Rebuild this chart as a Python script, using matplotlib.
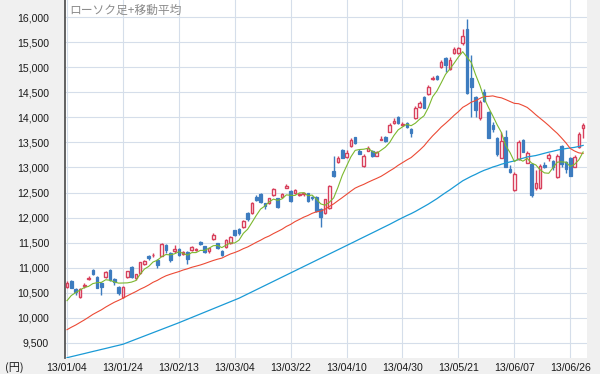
import numpy as np
import pandas as pd
import matplotlib
matplotlib.use("Agg")
import matplotlib.pyplot as plt

plt.rcParams["font.family"] = ["Liberation Sans", "Noto Sans CJK JP", "DejaVu Sans"]

holidays = ["2013-01-14", "2013-02-11", "2013-03-20", "2013-04-29", "2013-05-03", "2013-05-06"]
dates = pd.bdate_range("2013-01-04", "2013-07-01")
dates = dates[~dates.isin(pd.to_datetime(holidays))]

tick_labels = ["13/01/04", "13/01/24", "13/02/13", "13/03/04", "13/03/22",
               "13/04/10", "13/04/30", "13/05/21", "13/06/07", "13/06/26"]

# last closes of 2012 (needed for the 5 and 25 day averages)
prev_close = [9388.94, 9423.30, 9308.35, 9400.88, 9446.01, 9458.18, 9432.46, 9468.84,
              9545.16, 9527.39, 9533.75, 9525.32, 9581.46, 9742.73, 9737.56, 9828.88,
              9923.01, 10160.40, 10039.33, 9940.06, 10080.12, 10230.36, 10322.98, 10395.18]

open_ = [10610, 10743, 10580, 10420, 10640, 10780, 10950, 10810, 10690, 10810, 10950, 10770, 10610, 10420, 10820, 11010, 10790, 10900, 11070,
         11240, 11250, 11150, 11240, 11450, 11290, 11330, 11370, 11280, 11320, 11350, 11350, 11520, 11430, 11330, 11580, 11490, 11340, 11420,
         11500, 11750, 11780, 11810, 12090, 12090, 12420, 12480, 12290, 12290, 12450, 12390, 12420, 12600, 12540, 12500, 12450, 12480, 12490, 12420,
         12420, 12180, 12100, 12197, 12920, 13100, 13340, 13200, 13430, 13600, 13330, 13030, 13330, 13320, 13230, 13545, 13600, 13713, 13886, 14010, 13850,
         13886, 13760, 13980, 14212, 14400, 14464, 14770, 14820, 15000, 15190, 14960, 15288, 15290, 15476, 15760, 14780, 14400, 13990, 14510, 14110, 13846,
         13580, 13190, 13607, 12970, 12550, 13160, 13547, 13095, 13069, 12584, 12584, 13049, 13183, 13129, 12804, 13428, 13115, 13188, 13015, 13402, 13780]

high = [10740, 10752, 10600, 10600, 10700, 10830, 10980, 10830, 10720, 10930, 10970, 10790, 10630, 10640, 10940, 11030, 10880, 11120, 11150,
        11260, 11300, 11180, 11500, 11480, 11310, 11450, 11400, 11330, 11340, 11430, 11390, 11530, 11440, 11400, 11700, 11500, 11360, 11570,
        11630, 11760, 11800, 11960, 12110, 12320, 12450, 12500, 12300, 12400, 12600, 12400, 12500, 12670, 12560, 12570, 12490, 12510, 12500, 12440,
        12440, 12200, 12380, 12650, 13225, 13230, 13360, 13340, 13590, 13610, 13360, 13270, 13420, 13340, 13330, 13630, 13620, 13893, 13986, 14030, 13900,
        13900, 13780, 14220, 14332, 14420, 14650, 14830, 14840, 15150, 15200, 15210, 15408, 15400, 15755, 15960, 15240, 14420, 14345, 14560, 14130, 13900,
        13600, 13711, 13747, 13050, 12900, 13540, 13560, 13334, 13080, 12950, 13070, 13100, 13280, 13140, 13262, 13440, 13130, 13200, 13250, 13713, 13893]

low = [10600, 10589, 10460, 10400, 10600, 10760, 10860, 10590, 10457, 10790, 10740, 10650, 10460, 10400, 10800, 10800, 10760, 10880, 11050,
       11150, 11220, 11000, 11230, 11300, 11120, 11300, 11230, 11260, 11070, 11330, 11330, 11450, 11290, 11300, 11560, 11370, 11230, 11400,
       11480, 11630, 11660, 11800, 11940, 12070, 12330, 12300, 12180, 12270, 12430, 12200, 12400, 12590, 12320, 12480, 12430, 12440, 12320, 12360,
       12120, 11805, 12080, 12180, 12800, 13080, 13180, 13180, 13410, 13460, 13260, 13000, 13320, 13200, 13220, 13540, 13500, 13700, 13870, 13860, 13830,
       13780, 13600, 13960, 14190, 14180, 14440, 14750, 14740, 14980, 14910, 14940, 15270, 15270, 15450, 14470, 14000, 14000, 13950, 14300, 13580, 13700,
       13230, 13180, 13000, 12880, 12540, 13150, 13300, 13080, 12415, 12560, 12570, 12980, 13130, 12950, 12780, 13000, 12880, 12830, 13000, 13390, 13590]

close = [10688.11, 10599.01, 10508.06, 10578.57, 10652.64, 10801.57, 10879.08, 10600.44, 10609.64, 10913.30, 10747.74, 10709.93, 10486.99, 10620.92, 10926.65, 10824.31, 10866.72, 11113.95, 11138.66,
         11191.34, 11260.35, 11046.92, 11463.75, 11357.07, 11153.16, 11369.12, 11251.41, 11307.28, 11173.83, 11407.87, 11372.34, 11468.28, 11309.13, 11385.94, 11662.52, 11398.81, 11253.97, 11559.36,
         11606.38, 11652.29, 11683.45, 11932.27, 11968.08, 12283.62, 12349.05, 12314.81, 12239.66, 12381.19, 12560.95, 12220.63, 12468.23, 12635.69, 12338.53, 12546.46, 12471.62, 12493.79, 12335.96, 12397.91,
         12135.02, 12003.43, 12362.20, 12634.54, 12833.64, 13192.59, 13192.35, 13288.13, 13549.16, 13485.14, 13275.66, 13221.44, 13382.89, 13220.07, 13316.48, 13568.37, 13529.65, 13843.46, 13926.08, 13884.13, 13860.86,
         13799.35, 13694.04, 14180.24, 14285.69, 14191.48, 14607.54, 14782.21, 14758.13, 15096.03, 15037.24, 15138.12, 15360.81, 15381.02, 15627.26, 14483.98, 14612.45, 14142.65, 14311.98, 14326.46, 13589.03, 13774.54,
         13261.82, 13533.76, 13014.87, 12904.02, 12877.03, 13514.20, 13317.62, 13289.32, 12445.38, 12686.52, 13033.12, 13007.28, 13245.22, 13014.58, 13230.13, 13062.78, 12969.34, 12834.01, 13213.55, 13677.32, 13852.50]

ma75 = [9206, 9227, 9247, 9268, 9288, 9309, 9330, 9350, 9371, 9391, 9412, 9433, 9453, 9474,
        9507, 9540, 9573, 9606, 9639, 9672, 9705, 9738, 9771, 9804, 9837, 9870, 9903,
        9938, 9973, 10008, 10043, 10078, 10113, 10148, 10183, 10218, 10253, 10288, 10323, 10358, 10393,
        10435, 10477, 10519, 10561, 10603, 10645, 10687, 10729, 10771, 10813, 10855, 10897, 10939, 10981,
        11023, 11065, 11107, 11149, 11191, 11233, 11275, 11317, 11359,
        11401, 11443, 11485, 11527, 11570, 11612, 11654, 11696, 11738, 11781, 11823,
        11865, 11910, 11955, 11998, 12040, 12079, 12123, 12172, 12220, 12269, 12323, 12377, 12438, 12497,
        12553, 12614, 12674, 12734, 12779, 12824, 12863, 12906, 12944, 12974, 13009, 13034, 13065, 13088,
        13111, 13130, 13159, 13184, 13210, 13224, 13238, 13260, 13283, 13305, 13324, 13345, 13364, 13377,
        13389, 13401, 13419, 13440]

RED = "#d8405c"
BLUE = "#3d7cbf"

o = np.array(open_, dtype=float)
h = np.array(high, dtype=float)
l = np.array(low, dtype=float)
c = np.array(close, dtype=float)
x = np.arange(len(c))
up = c >= o

all_close = pd.Series(prev_close + close)
n_prev = len(prev_close)
ma5 = all_close.rolling(5).mean().to_numpy()[n_prev:]
ma25 = all_close.rolling(25).mean().to_numpy()[n_prev:]

fig = plt.figure(figsize=(6, 3.74), dpi=100, facecolor="#f0f0f0")
ax = fig.add_axes([65 / 600, 16 / 374, 522 / 600, 358 / 374])
ax.set_facecolor("white")

ax.vlines(x, l, h, colors=np.where(up, RED, BLUE), lw=1.0, zorder=2)
ax.bar(x[up], (c - o)[up], bottom=o[up], width=0.6, facecolor="white",
       edgecolor=RED, lw=1.0, zorder=3)
ax.bar(x[~up], (o - c)[~up], bottom=c[~up], width=0.6, facecolor=BLUE,
       edgecolor=BLUE, lw=0.9, zorder=3)

ax.plot(x, ma75, color="#1a9ad6", lw=0.9, zorder=4)
ax.plot(x, ma25, color="#ec4a35", lw=0.8, zorder=4)
ax.plot(x, ma5, color="#7cb82f", lw=0.8, zorder=4)

labels = dates.strftime("%y/%m/%d")
ticks = [i for i, d in enumerate(labels) if d in tick_labels]
ax.set_xticks(ticks)
ax.set_xticklabels([labels[i] for i in ticks])
ax.set_xlim(-0.47, 120.9)

yt = np.arange(9500, 16001, 500)
ax.set_yticks(yt)
ax.set_yticklabels([f"{v:,}" for v in yt])
ax.set_ylim(9200, 16340)

ax.grid(True, color="#d5deea", lw=0.8, zorder=0)
ax.set_axisbelow(True)
ax.tick_params(axis="both", length=0, labelsize=7.6, colors="#1a1a1a")
ax.tick_params(axis="y", pad=11.5)
ax.tick_params(axis="x", pad=3.3)

for s in ["top", "right", "bottom"]:
    ax.spines[s].set_visible(False)
ax.spines["left"].set_color("#555555")
ax.spines["left"].set_linewidth(1.3)

ax.text(4 / 522, 1 - 10 / 358, "ローソク足+移動平均", transform=ax.transAxes,
        ha="left", va="center", fontsize=8.5, color="#8c8c8c",
        family=["Noto Sans CJK JP", "DejaVu Sans"])
fig.text(5 / 600, 6 / 374, "(円)", ha="left", va="center", fontsize=8,
         color="#1a1a1a", family=["Noto Sans CJK JP", "DejaVu Sans"])

fig.savefig("out.png", dpi=100, facecolor=fig.get_facecolor())
